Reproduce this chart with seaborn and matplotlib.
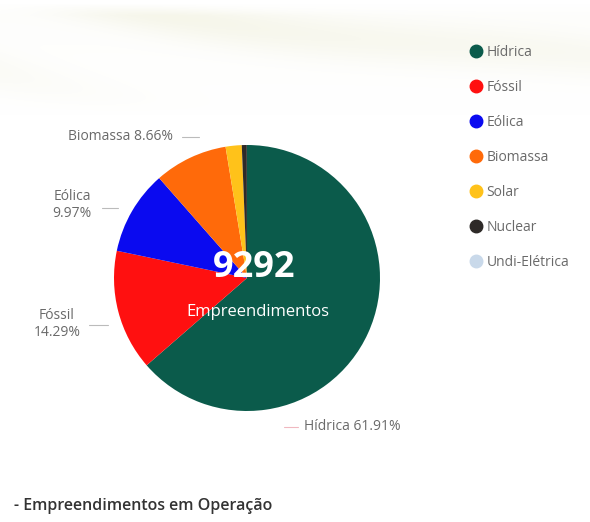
import numpy as np
import matplotlib
matplotlib.use("Agg")
import matplotlib.pyplot as plt
from matplotlib.lines import Line2D
import seaborn as sns

# Installed capacity share by source (%)
sources = ["Hídrica", "Fóssil", "Eólica", "Biomassa", "Solar", "Nuclear", "Undi-Elétrica"]
shares = [61.91, 14.29, 9.97, 8.66, 1.9, 0.6, 0.01]
colors = ["#0b5b4b", "#ff1010", "#0a0af0", "#ff6a0a", "#ffc21a", "#2e2a28", "#c9d9ea"]
total_units = 9292

sns.set_theme(style="white")
plt.rcParams["font.family"] = ["Open Sans", "DejaVu Sans"]

W, H = 590, 522
fig = plt.figure(figsize=(W / 100, H / 100), dpi=100)
fig.patch.set_facecolor("white")

# soft cream header band with faint diagonal streaks
bg = fig.add_axes([0, 0, 1, 1], zorder=-5)
bg.set_axis_off()
yy, xx = np.mgrid[0:H, 0:W].astype(float)
waves = 0.5 + 0.5 * np.sin((xx * 0.010 - yy * 0.06) + 0.9 * np.sin(xx * 0.007))
fade = np.clip(1 - (yy - 20) / 95.0, 0, 1) * np.clip((yy - 3) / 12.0, 0, 1)
amt = fade * (0.15 + 0.85 * waves ** 2) * 0.5
cream = np.array([0.93, 0.93, 0.84])
img = np.ones((H, W, 3)) * (1 - amt[..., None]) + cream * amt[..., None]
bg.imshow(img, extent=[0, W, H, 0], aspect="auto")
bg.set_xlim(0, W)
bg.set_ylim(H, 0)

def fx(px):
    return px / W

def fy(py):
    return 1 - py / H

# pie
cx, cy, r = 247, 278, 133
ax = fig.add_axes([fx(cx - r), fy(cy + r), 2 * r / W, 2 * r / H])
ax.pie(shares, colors=colors, startangle=90, counterclock=False,
       wedgeprops=dict(linewidth=0))
ax.set_xlim(-1, 1)
ax.set_ylim(-1, 1)
ax.set_aspect("equal")
ax.set_axis_off()

fig.text(fx(254), fy(268), f"{total_units}", color="white", fontsize=26,
         fontweight="bold", ha="center", va="center")
fig.text(fx(258), fy(312), "Empreendimentos", color="white", fontsize=12,
         ha="center", va="center")

# outside labels with leader lines
lab_color = "#6a6a6a"
line_color = "#bbbbbb"
fs = 10
fig.text(fx(121), fy(136), f"Biomassa {shares[3]:.2f}%",
         color=lab_color, fontsize=fs, ha="center", va="center")
fig.add_artist(Line2D([fx(182), fx(199)], [fy(137), fy(137)], color=line_color, lw=0.8))

fig.text(fx(72), fy(205), f"Eólica\n{shares[2]:.2f}%", color=lab_color, fontsize=fs,
         ha="center", va="center", linespacing=1.2)
fig.add_artist(Line2D([fx(102), fx(118)], [fy(208), fy(208)], color=line_color, lw=0.8))

fig.text(fx(57), fy(324), f"Fóssil\n{shares[1]:.2f}%", color=lab_color, fontsize=fs,
         ha="center", va="center", linespacing=1.2)
fig.add_artist(Line2D([fx(89), fx(108)], [fy(325), fy(325)], color=line_color, lw=0.8))

fig.text(fx(304), fy(427), f"Hídrica {shares[0]:.2f}%", color=lab_color, fontsize=fs,
         ha="left", va="center")
fig.add_artist(Line2D([fx(284), fx(298)], [fy(427), fy(427)], color="#f0b8c0", lw=0.8))

# legend
handles = [Line2D([0], [0], marker="o", linestyle="", markersize=9,
                  markerfacecolor=c, markeredgecolor=c) for c in colors]
fig.legend(handles, sources, loc="upper left", bbox_to_anchor=(fx(462), fy(39)),
           frameon=False, fontsize=10, labelcolor=lab_color, handletextpad=0.15,
           labelspacing=1.44, handlelength=1.2, borderaxespad=0)

fig.text(fx(14), fy(506), "- Empreendimentos em Operação", color="#333333",
         fontsize=11.5, fontweight="semibold", ha="left", va="center")

fig.savefig("out.png", dpi=100, facecolor="white")
